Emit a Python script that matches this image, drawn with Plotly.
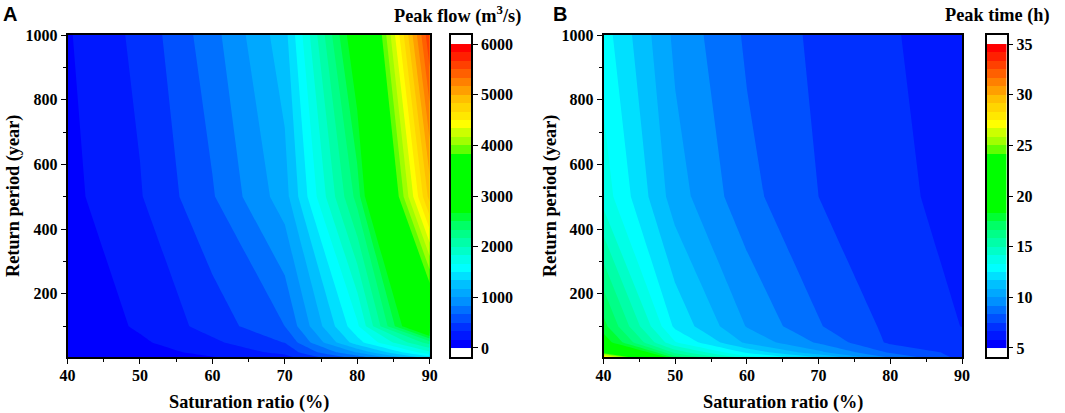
import plotly.graph_objects as go

W = 1065
H = 413

saturation_ratio = [40, 50, 60, 70, 80, 90]
return_period = [5, 20, 50, 100, 500, 1000]

# rows follow return_period, columns follow saturation_ratio
peak_flow = [
    [8, 60, 160, 280, 750, 1450],
    [15, 90, 220, 380, 1020, 1800],
    [30, 140, 300, 505, 1430, 2250],
    [40, 190, 400, 667, 1630, 3300],
    [116, 320, 650, 1090, 2400, 4900],
    [150, 380, 770, 1270, 2900, 5650],
]
peak_time = [
    [28.0, 17.0, 13.6, 11.6, 9.0, 7.2],
    [23.0, 15.5, 12.3, 10.2, 8.2, 7.2],
    [19.0, 13.4, 10.65, 9.05, 7.35, 7.0],
    [17.8, 12.3, 9.95, 8.4, 7.3, 6.65],
    [13.8, 10.4, 8.6, 7.5, 6.9, 6.35],
    [12.9, 9.8, 8.2, 7.3, 6.75, 6.2],
]

band_colours = [
    '#0000ff', '#0018ff', '#0030ff', '#0050ff', '#0070ff', '#0090ff',
    '#00a8ff', '#00c0ff', '#00e0ff', '#00ffff', '#00ffe8', '#00ffc8',
    '#00ffa8', '#00ff88', '#00ff66', '#00ff33', '#00ff00', '#00ff00',
    '#00ff00', '#00ff00', '#00ff00', '#00ff00', '#00ff00', '#60ff00',
    '#a0ff00', '#ccff00', '#ffff00', '#ffe800', '#ffd500', '#ffbf00',
    '#ff9f00', '#ff8000', '#ff6000', '#ff4000', '#ff2000', '#ff0000',
]
n_bands = len(band_colours)

# heatmap reads a band at its middle
bar_scale = [[0, band_colours[0]]]
for i, c in enumerate(band_colours):
    bar_scale.append([(i + 0.5) / n_bands, c])
bar_scale.append([1, band_colours[-1]])

# contour fill spreads the scale over n_bands + 1 levels, band k sits at (k + 1) / (n + 1)
fill_scale = [[0, band_colours[0]]]
for i, c in enumerate(band_colours):
    fill_scale.append([(i + 1) / (n_bands + 1), c])
fill_scale.append([1, band_colours[-1]])

serif = 'Liberation Serif'
tick_font = dict(family=serif, size=16, color='black', weight='bold')
title_font = dict(family=serif, size=18.3, color='black', weight='bold')
letter_font = dict(family='Liberation Sans', size=20, color='black', weight='bold')


def xdom(left, right):
    return [left / W, right / W]


def ydom(top, bottom):
    return [1 - bottom / H, 1 - top / H]


def label(text, x, y, font, xanchor='center', angle=0):
    fig.add_annotation(text=text, x=x / W, y=1 - y / H, xref='paper', yref='paper',
                       xanchor=xanchor, yanchor='middle', showarrow=False, font=font,
                       textangle=angle)


fig = go.Figure()


def add_panel(n, z, zmin, zmax, bar_ticks, x_px, bar_px, cap, title, letter, letter_x,
              title_right, ytitle_x):
    suffix = '' if n == 1 else str(n)
    size = (zmax - zmin) / n_bands
    fig.add_trace(go.Contour(
        x=saturation_ratio, y=return_period, z=z,
        colorscale=fill_scale, showscale=False,
        contours=dict(coloring='fill', start=zmin, end=zmax + size * 0.01, size=size, showlines=False),
        line=dict(width=0, smoothing=0),
        xaxis='x' + suffix, yaxis='y' + suffix,
    ))
    # colour bar is a small heatmap on its own axes so the white end caps can be kept
    edges = [zmin + i * size for i in range(n_bands + 1)]
    mids = [[zmin + (i + 0.5) * size] for i in range(n_bands)]
    m = n + 2
    fig.add_trace(go.Heatmap(
        x=[0, 1], y=edges, z=mids,
        colorscale=bar_scale, zmin=zmin, zmax=zmax, showscale=False,
        xaxis='x%d' % m, yaxis='y%d' % m,
    ))
    common = dict(showline=True, linecolor='black', linewidth=1.5, mirror=True,
                  ticks='outside', tickcolor='black', tickwidth=1.3, ticklen=5,
                  tickfont=tick_font, showgrid=False, zeroline=False, automargin=False)
    minor = dict(ticks='outside', ticklen=3, tickwidth=1.1, tickcolor='black', showgrid=False)
    fig.layout['xaxis' + suffix] = dict(
        domain=xdom(*x_px), range=[40, 90], tickmode='array', tickvals=saturation_ratio,
        minor=dict(tickvals=[45, 55, 65, 75, 85], **minor),
        ticklabelstandoff=-2, anchor='y' + suffix, **common)
    fig.layout['yaxis' + suffix] = dict(
        domain=ydom(35, 357), range=[5, 1000], tickmode='array',
        tickvals=[200, 400, 600, 800, 1000],
        minor=dict(tickvals=[100, 300, 500, 700, 900], **minor),
        anchor='x' + suffix, **common)
    fig.layout['xaxis%d' % m] = dict(
        domain=xdom(*bar_px), range=[0, 1], showticklabels=False, ticks='',
        showline=True, linecolor='black', linewidth=1.5, mirror=True,
        showgrid=False, zeroline=False, anchor='y%d' % m)
    fig.layout['yaxis%d' % m] = dict(
        domain=ydom(35, 357), range=[zmin - cap, zmax + cap], side='right',
        tickmode='array', tickvals=bar_ticks, anchor='x%d' % m, **common)
    label(letter, letter_x, 14, letter_font, xanchor='left')
    label(title, title_right, 15, title_font, xanchor='right')
    label('Saturation ratio (%)', (x_px[0] + x_px[1]) / 2 + 0.5, 402, title_font)
    label('Return period (year)', ytitle_x, 196, title_font, angle=-90)


add_panel(1, peak_flow, 0, 6000, [0, 1000, 2000, 3000, 4000, 5000, 6000],
          (67.5, 429.7), (451, 471), 178, 'Peak flow (m<sup>3</sup>/s)', 'A', 1, 523, 13)
add_panel(2, peak_time, 5, 35, [5, 10, 15, 20, 25, 30, 35],
          (603.5, 962), (987, 1006.5), 0.89, 'Peak time (h)', 'B', 551, 1052, 550)

fig.update_layout(width=W, height=H, margin=dict(l=0, r=0, t=0, b=0),
                  paper_bgcolor='white', plot_bgcolor='white', showlegend=False)

fig.write_html("out.html", config={'displayModeBar': False},
               post_script="document.body.style.margin='0';")
